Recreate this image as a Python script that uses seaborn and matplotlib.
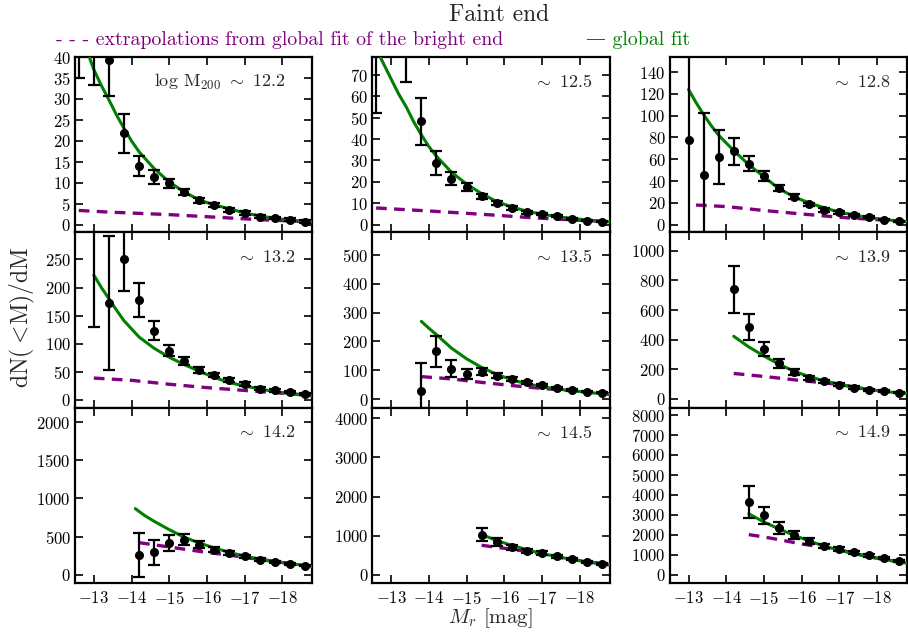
import numpy as np
import pandas as pd
import matplotlib
matplotlib.use("Agg")
import matplotlib.pyplot as plt
import seaborn as sns

# ---------------- data ----------------
mass_labels = ["12.2", "12.5", "12.8", "13.2", "13.5", "13.9", "14.2", "14.5", "14.9"]

# data points: magnitude bin centres, dN/dM, error
pts_x = [
    [-12.6, -13.0, -13.4, -13.8, -14.2, -14.6, -15.0, -15.4, -15.8, -16.2, -16.6, -17.0, -17.4, -17.8, -18.2, -18.6],
    [-12.6, -13.4, -13.8, -14.2, -14.6, -15.0, -15.4, -15.8, -16.2, -16.6, -17.0, -17.4, -17.8, -18.2, -18.6],
    [-13.0, -13.4, -13.8, -14.2, -14.6, -15.0, -15.4, -15.8, -16.2, -16.6, -17.0, -17.4, -17.8, -18.2, -18.6],
    [-13.0, -13.4, -13.8, -14.2, -14.6, -15.0, -15.4, -15.8, -16.2, -16.6, -17.0, -17.4, -17.8, -18.2, -18.6],
    [-13.8, -14.2, -14.6, -15.0, -15.4, -15.8, -16.2, -16.6, -17.0, -17.4, -17.8, -18.2, -18.6],
    [-14.2, -14.6, -15.0, -15.4, -15.8, -16.2, -16.6, -17.0, -17.4, -17.8, -18.2, -18.6],
    [-14.2, -14.6, -15.0, -15.4, -15.8, -16.2, -16.6, -17.0, -17.4, -17.8, -18.2, -18.6],
    [-15.4, -15.8, -16.2, -16.6, -17.0, -17.4, -17.8, -18.2, -18.6],
    [-14.6, -15.0, -15.4, -15.8, -16.2, -16.6, -17.0, -17.4, -17.8, -18.2, -18.6],
]
pts_y = [
    [46, 42, 39.4, 21.8, 14.0, 11.4, 9.9, 7.8, 5.8, 4.6, 3.5, 2.8, 1.9, 1.6, 1.2, 0.7],
    [85, 85, 48.4, 29.0, 21.5, 17.5, 13.2, 10.0, 7.7, 5.8, 5.0, 3.9, 2.7, 1.9, 1.4],
    [78, 45.5, 62, 67.4, 56, 44.6, 33.5, 25.8, 18.5, 13.5, 11.4, 8.9, 6.8, 4.6, 3.1],
    [320, 173, 250, 178, 123.5, 87.7, 68.6, 53.7, 44, 35.8, 28.6, 20.3, 17.3, 14.3, 11.3],
    [28, 165.5, 105, 86, 95.6, 81.6, 70, 58, 49, 39.6, 31.5, 25.6, 22],
    [740, 486, 337, 242, 181, 140, 118, 95, 77, 63, 54, 43],
    [262, 293, 416, 460, 394, 328, 284, 240, 197, 166, 140, 118],
    [1026, 829, 700, 615, 555, 470, 400, 325, 273],
    [3649, 2979, 2343, 2008, 1674, 1423, 1289, 1121, 971, 837, 703],
]
pts_err = [
    [11, 8.6, 8.7, 4.7, 2.5, 1.6, 1.1, 0.8, 0.6, 0.5, 0.4, 0.4, 0.3, 0.3, 0.3, 0.3],
    [33, 18.5, 11, 5.6, 3.0, 2.0, 1.3, 1.0, 0.8, 0.6, 0.5, 0.4, 0.4, 0.3, 0.3],
    [100, 57, 25, 12.5, 7, 4.5, 3, 2.5, 1.8, 1.5, 1.2, 1.0, 0.8, 0.7, 0.6],
    [190, 119, 57, 30, 16.5, 10, 7, 5, 4, 3.5, 3, 2.5, 2.2, 2, 1.8],
    [99, 54, 29, 17, 12, 9, 7, 5, 4, 3.5, 3, 2.5, 2.2],
    [160, 85, 48, 30, 22, 15, 12, 10, 8, 6, 5, 4],
    [290, 165, 105, 70, 45, 32, 25, 20, 16, 13, 11, 9],
    [170, 100, 70, 50, 40, 35, 30, 25, 20],
    [790, 430, 280, 200, 150, 110, 90, 70, 60, 50, 45],
]

# global fit (green solid)
fit_x = [
    [-12.88, -13.0, -13.2, -13.4, -13.6, -13.8, -14.0, -14.2, -14.6, -15.0, -15.4, -15.8, -16.2, -16.6, -17.0, -17.4, -17.8, -18.2, -18.6, -18.8],
    [-12.71, -13.0, -13.2, -13.4, -13.6, -13.8, -14.0, -14.2, -14.6, -15.0, -15.4, -15.8, -16.2, -16.6, -17.0, -17.4, -17.8, -18.2, -18.6, -18.8],
    [-13.0, -13.2, -13.4, -13.6, -13.8, -14.2, -14.6, -15.0, -15.4, -15.8, -16.2, -16.6, -17.0, -17.4, -17.8, -18.2, -18.6, -18.8],
    [-13.0, -13.2, -13.4, -13.6, -13.8, -14.2, -14.6, -15.0, -15.4, -15.8, -16.2, -16.6, -17.0, -17.4, -17.8, -18.2, -18.6, -18.8],
    [-13.8, -14.0, -14.2, -14.6, -15.0, -15.4, -15.8, -16.2, -16.6, -17.0, -17.4, -17.8, -18.2, -18.6, -18.8],
    [-14.2, -14.6, -15.0, -15.4, -15.8, -16.2, -16.6, -17.0, -17.4, -17.8, -18.2, -18.6, -18.8],
    [-14.1, -14.35, -14.6, -15.0, -15.4, -15.8, -16.2, -16.6, -17.0, -17.4, -17.8, -18.2, -18.6, -18.8],
    [-15.4, -15.8, -16.2, -16.6, -17.0, -17.4, -17.8, -18.2, -18.6, -18.8],
    [-14.6, -15.0, -15.4, -15.8, -16.2, -16.6, -17.0, -17.4, -17.8, -18.2, -18.6, -18.8],
]
fit_y = [
    [40, 37, 33.2, 29.8, 26.2, 23, 20.0, 17.4, 13.4, 10.2, 7.8, 5.9, 4.7, 3.8, 2.8, 2.1, 1.5, 1.1, 0.8, 0.64],
    [78.3, 68, 61, 55, 48, 42, 36.5, 32, 24.5, 19, 14.5, 10.8, 8.3, 6.3, 4.9, 3.8, 2.9, 2.2, 1.5, 1.3],
    [124, 112, 101, 91, 82, 68, 55, 44, 33, 25.5, 20, 15.5, 11.5, 8.8, 6.4, 4.7, 3.2, 2.7],
    [222, 200, 180, 160, 141, 112, 92, 76, 63, 51, 40, 31, 25, 19.5, 15, 11.5, 8.5, 7.2],
    [270, 246, 224, 177, 140, 110, 86, 67, 53, 43, 35, 29, 23.5, 18, 16],
    [423, 351, 290, 235, 187, 151, 122, 100, 80, 64, 51, 40, 36],
    [866, 775, 700, 591, 490, 416, 350, 293, 242, 205, 175, 148, 120, 108],
    [1030, 872, 752, 641, 540, 461, 390, 328, 275, 255],
    [3050, 2644, 2293, 1975, 1690, 1430, 1230, 1045, 890, 755, 640, 580],
]

# extrapolation of bright-end fit (purple dashed)
ext_x = [
    [-12.6, -13.4, -14.2, -15.0, -15.8, -16.6, -17.4, -18.2, -18.8],
    [-12.6, -13.4, -14.2, -15.0, -15.8, -16.6, -17.4, -18.2, -18.8],
    [-13.2, -14.0, -15.0, -16.0, -17.0, -17.8, -18.8],
    [-13.0, -14.0, -15.0, -16.0, -17.0, -17.8, -18.8],
    [-13.8, -14.6, -15.4, -16.2, -17.0, -17.8, -18.8],
    [-14.2, -15.0, -16.0, -17.0, -17.8, -18.8],
    [-14.2, -15.0, -15.8, -16.6, -17.4, -18.2, -18.8],
    [-15.4, -16.2, -16.6, -17.0, -17.8, -18.8],
    [-14.6, -15.0, -15.4, -16.0, -16.6, -17.0, -17.8, -18.8],
]
ext_y = [
    [3.4, 3.0, 2.7, 2.4, 2.0, 1.6, 1.2, 0.9, 0.65],
    [7.8, 7.0, 6.2, 5.3, 4.4, 3.4, 2.6, 1.9, 1.4],
    [18, 16.6, 13, 9.8, 6.8, 5.0, 3.0],
    [39, 35, 28, 22, 17, 13, 8],
    [78, 70, 58, 47, 37, 29, 18],
    [172, 152, 124, 98, 62, 35],
    [420, 363, 306, 256, 200, 145, 105],
    [752, 650, 595, 535, 388, 252],
    [2008, 1891, 1757, 1540, 1372, 1250, 900, 570],
]

ylims = [(-1.84, 40), (-3.6, 78.3), (-7.1, 153.8), (-13.7, 298), (-30, 579),
         (-59, 1124), (-109, 2188), (-214, 4274), (-418, 8368)]
ytick_sets = [
    list(range(0, 41, 5)), list(range(0, 71, 10)), list(range(0, 141, 20)),
    list(range(0, 251, 50)), list(range(0, 501, 100)), list(range(0, 1001, 200)),
    list(range(0, 2001, 500)), list(range(0, 4001, 1000)), list(range(0, 8001, 1000)),
]
xticks = [-13, -14, -15, -16, -17, -18]

# ---------------- style ----------------
sns.set_style("ticks")
plt.rcParams.update({
    "font.family": ["cmr10", "DejaVu Serif"],
    "mathtext.fontset": "cm",
    "axes.formatter.use_mathtext": True,
    "axes.unicode_minus": True,
    "axes.linewidth": 1.6,
    "xtick.direction": "in",
    "ytick.direction": "in",
    "xtick.top": True,
    "ytick.right": True,
    "xtick.major.size": 6,
    "ytick.major.size": 6,
    "xtick.major.width": 1.2,
    "ytick.major.width": 1.2,
    "xtick.labelsize": 12,
    "ytick.labelsize": 12,
    "xtick.major.pad": 5,
    "ytick.major.pad": 3,
    "xtick.color": "black",
    "ytick.color": "black",
    "axes.edgecolor": "black",
})

GREEN = "#008000"
PURPLE = "#800080"

fig, axes = plt.subplots(3, 3, figsize=(9.08, 6.34), dpi=100, sharex=True)
fig.subplots_adjust(left=0.0826, right=0.9989, bottom=0.0804, top=0.910,
                    hspace=0.0, wspace=0.253)

for i, ax in enumerate(axes.flat):
    dfe = pd.DataFrame({"M": ext_x[i], "n": ext_y[i]})
    sns.lineplot(data=dfe, x="M", y="n", ax=ax, color=PURPLE, lw=2.4,
                 linestyle=(0, (3.2, 2.2)), sort=False, estimator=None, zorder=2)
    dff = pd.DataFrame({"M": fit_x[i], "n": fit_y[i]})
    sns.lineplot(data=dff, x="M", y="n", ax=ax, color=GREEN, lw=2.2,
                 sort=False, estimator=None, zorder=3)
    ax.errorbar(pts_x[i], pts_y[i], yerr=pts_err[i], fmt="o", color="black",
                ms=5.5, elinewidth=1.6, capsize=4, capthick=1.6, zorder=4)
    ax.set_xlim(-12.5, -18.8)
    ax.set_ylim(*ylims[i])
    ax.set_yticks(ytick_sets[i])
    ax.set_xticks(xticks)
    ax.set_xlabel("")
    ax.set_ylabel("")
    if i == 0:
        lab = r"log M$_{200}$ $\sim$ 12.2"
    else:
        lab = r"$\sim$ " + mass_labels[i]
    ax.text(0.89 if i == 0 else 0.93, 0.86, lab, transform=ax.transAxes,
            ha="right", va="center", fontsize=13)
    if i < 6:
        ax.tick_params(axis="x", labelbottom=False)

fig.text(0.55, 0.976, "Faint end", ha="center", va="center", fontsize=17)
fig.text(0.062, 0.937, "- - - extrapolations from global fit of the bright end",
         ha="left", va="center", fontsize=14.3, color=PURPLE)
fig.text(0.645, 0.937, "\u2014 global fit", ha="left", va="center",
         fontsize=14.3, color=GREEN)
fig.text(0.025, 0.50, r"$\mathrm{dN(}<\!\mathrm{M)/dM}$", rotation=90,
         ha="center", va="center", fontsize=17)
fig.text(0.54, 0.025, r"$M_r$ [mag]", ha="center", va="center", fontsize=15)

fig.savefig("out.png", dpi=100)
